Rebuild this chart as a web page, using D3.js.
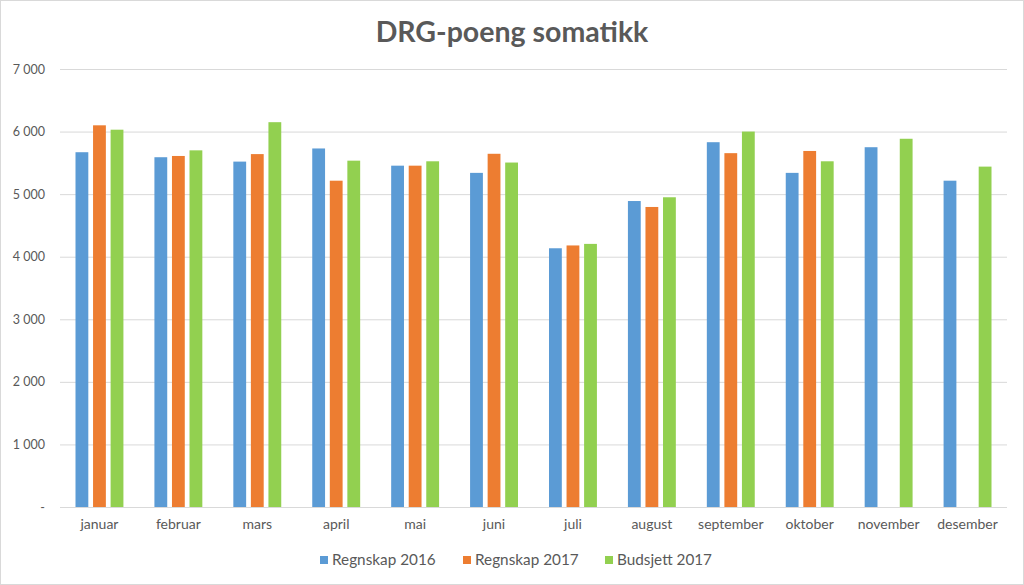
<!DOCTYPE html>
<html><head><meta charset="utf-8">
<script src="https://cdn.jsdelivr.net/npm/d3@7"></script>
<style>body{margin:0;background:#fff}svg{display:block}</style>
</head><body>
<svg id="c" width="1024" height="585"></svg>
<script>
const months = ["januar","februar","mars","april","mai","juni","juli","august","september","oktober","november","desember"];
const seriesNames = ["Regnskap 2016","Regnskap 2017","Budsjett 2017"];
const regnskap2016 = [5670,5590,5520,5730,5455,5340,4135,4890,5830,5340,5750,5215];
const regnskap2017 = [6100,5610,5640,5215,5455,5645,4180,4795,5655,5690,null,null];
const budsjett2017 = [6030,5700,6150,5535,5525,5505,4205,4950,6000,5525,5885,5440];
const yTicks = [0,1000,2000,3000,4000,5000,6000,7000];
const colors = ["#5B9BD5","#ED7D31","#92D050"];
const allSeries = [regnskap2016, regnskap2017, budsjett2017];

const svg = d3.select("#c");
const font = "Lato, 'Open Sans', sans-serif";
svg.append("rect").attr("x",0.5).attr("y",0.5).attr("width",1023).attr("height",584)
  .attr("fill","#fff").attr("stroke","#d9d9d9");

const x = d3.scaleBand().domain(months).range([60,1007]).paddingInner(0).paddingOuter(0);
const inner = d3.scaleBand().domain(seriesNames).range([15.5, x.bandwidth()-15.5]).paddingInner(0.27);
const y = d3.scaleLinear().domain([0,7000]).range([507,69]);

// gridlines
svg.append("g").selectAll("line").data(yTicks).join("line")
  .attr("x1",60).attr("x2",1007).attr("y1",d=>y(d)+0.5).attr("y2",d=>y(d)+0.5)
  .attr("stroke","#d9d9d9").attr("stroke-width",1);

// y axis labels
const fmt = d => d===0 ? "-" : d3.format(",")(d).replace(/,/g," ");
const yAxis = d3.axisLeft(y).tickValues(yTicks).tickFormat(fmt).tickSize(0).tickPadding(0);
const gy = svg.append("g").attr("transform","translate(45,0)").call(yAxis);
gy.select(".domain").remove();
gy.selectAll("text").attr("fill","#595959").style("font-family",font).style("font-size","12.5px");

// bars
allSeries.forEach((vals,si)=>{
  svg.append("g").selectAll("rect").data(months.map((m,i)=>({m,v:vals[i]})).filter(d=>d.v!=null))
    .join("rect")
    .attr("x",d=>x(d.m)+inner(seriesNames[si]))
    .attr("width",inner.bandwidth())
    .attr("y",d=>y(d.v)).attr("height",d=>y(0)-y(d.v))
    .attr("fill",colors[si]);
});

// x axis labels
const xAxis = d3.axisBottom(x).tickSize(0).tickPadding(0);
const gx = svg.append("g").attr("transform","translate(0,519)").call(xAxis);
gx.select(".domain").remove();
gx.selectAll("text").attr("fill","#595959").style("font-family",font).style("font-size","14px");

// title
svg.append("text").attr("x",512).attr("y",42).attr("text-anchor","middle")
  .attr("fill","#595959").style("font-family",font).style("font-weight","bold").style("font-size","28.5px")
  .text("DRG-poeng somatikk");

// legend
const legX = [320, 463, 605];
const lg = svg.append("g").selectAll("g").data(seriesNames).join("g")
  .attr("transform",(d,i)=>`translate(${legX[i]},560)`);
lg.append("rect").attr("x",0).attr("y",-4).attr("width",8).attr("height",8).attr("fill",(d,i)=>colors[i]);
lg.append("text").attr("x",12).attr("y",0).attr("dy","0.35em").attr("fill","#595959")
  .style("font-family",font).style("font-size","15.3px").text(d=>d);
</script>
</body></html>
